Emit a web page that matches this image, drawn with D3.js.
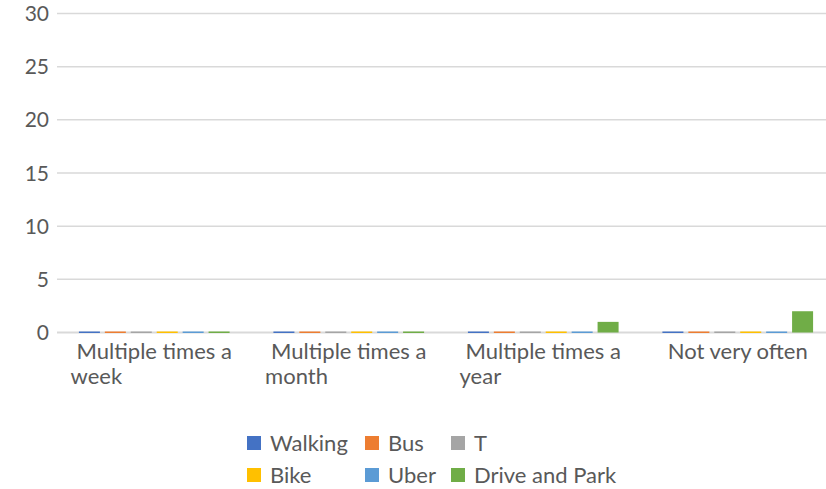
<!DOCTYPE html>
<html lang="en">
<head>
<meta charset="utf-8">
<title>Transport frequency</title>
<script src="https://d3js.org/d3.v7.min.js"></script>
<style>
  body { margin: 0; background: #fff; }
  svg { display: block; }
</style>
</head>
<body>
<script>
const categories = [['Multiple times a', 'week'], ['Multiple times a', 'month'], ['Multiple times a', 'year'], ['Not very often']];
const series = ['Walking', 'Bus', 'T', 'Bike', 'Uber', 'Drive and Park'];
const colors = ['#4472c4', '#ed7d31', '#a5a5a5', '#ffc000', '#5b9bd5', '#70ad47'];
const walking = [0, 0, 0, 0];
const bus = [0, 0, 0, 0];
const tTrain = [0, 0, 0, 0];
const bike = [0, 0, 0, 0];
const uber = [0, 0, 0, 0];
const driveAndPark = [0, 0, 1, 2];
const yTicks = [0, 5, 10, 15, 20, 25, 30];

const values = [walking, bus, tTrain, bike, uber, driveAndPark];
const w = 826, h = 489;
const plotLeft = 57, plotRight = 835, plotTop = 13.5, plotBottom = 332.5;

const svg = d3.select('body').append('svg').attr('width', w).attr('height', h);

const y = d3.scaleLinear().domain([0, 30]).range([plotBottom, plotTop]);
const x0 = d3.scaleBand().domain(d3.range(categories.length)).range([plotLeft, plotRight]);
const x1 = d3.scaleBand().domain(d3.range(series.length)).range([0, x0.bandwidth()])
             .paddingInner(0.19).paddingOuter(0.845);

// gridlines
svg.append('g').selectAll('line').data(yTicks.filter(d => d > 0)).enter().append('line')
   .attr('x1', plotLeft).attr('x2', w)
   .attr('y1', d => y(d)).attr('y2', d => y(d))
   .attr('stroke', '#d9d9d9').attr('stroke-width', 1.5);

// y labels
svg.append('g').selectAll('text').data(yTicks).enter().append('text')
   .attr('x', 49).attr('y', d => y(d)).attr('dy', '0.36em')
   .attr('text-anchor', 'end')
   .attr('font-family', 'Lato, sans-serif').attr('font-size', 21)
   .attr('fill', '#595959').text(d => d);

// baseline
svg.append('line').attr('x1', plotLeft).attr('x2', w)
   .attr('y1', y(0)).attr('y2', y(0))
   .attr('stroke', '#d9d9d9').attr('stroke-width', 2);

// bars
const groups = svg.append('g').selectAll('g').data(categories).enter().append('g')
   .attr('transform', (d, i) => 'translate(' + x0(i) + ',0)');
groups.selectAll('rect').data((d, i) => series.map((s, j) => ({ j: j, v: values[j][i] }))).enter().append('rect')
   .attr('x', d => x1(d.j)).attr('width', x1.bandwidth())
   .attr('y', d => d.v > 0 ? y(d.v) : y(0) - 1)
   .attr('height', d => d.v > 0 ? y(0) - y(d.v) : 1.5)
   .attr('fill', d => colors[d.j]);

// category labels
const catLabels = svg.append('g').selectAll('text').data(categories).enter().append('text')
   .attr('font-family', 'Lato, sans-serif').attr('font-size', 22).attr('fill', '#595959');
catLabels.each(function (lines, i) {
    const t = d3.select(this);
    lines.forEach((l, k) => {
        t.append('tspan').text(l).attr('y', 351 + 25 * k).attr('dy', '0.35em');
    });
    const first = t.select('tspan').node().getComputedTextLength();
    const cx = x0(i) + x0.bandwidth() / 2;
    if (lines.length === 1) {
        t.selectAll('tspan').attr('x', cx).attr('text-anchor', 'middle');
    } else {
        t.selectAll('tspan').attr('x', (d, k) => cx - first / 2 + (k === 0 ? 0 : -6));
    }
});

// legend
const legendX = [247, 365, 451];
const legendY = [443, 475];
const legend = svg.append('g').selectAll('g').data(series).enter().append('g')
   .attr('transform', (d, i) => 'translate(' + legendX[i % 3] + ',' + legendY[Math.floor(i / 3)] + ')');
legend.append('rect').attr('x', 0).attr('y', -7).attr('width', 14).attr('height', 14)
   .attr('fill', (d, i) => colors[i]);
legend.append('text').attr('x', 23).attr('y', 0).attr('dy', '0.35em')
   .attr('font-family', 'Lato, sans-serif').attr('font-size', 22).attr('fill', '#595959')
   .text(d => d);
</script>
</body>
</html>
